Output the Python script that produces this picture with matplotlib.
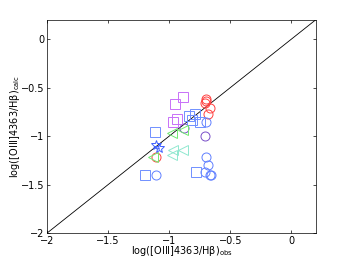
import matplotlib
matplotlib.use('Agg')
import matplotlib.pyplot as plt

matplotlib.rcParams.update({'font.size': 7, 'font.family': 'DejaVu Sans'})

# observed vs calculated log([OIII]4363/Hb), grouped by marker style
red_circ_x = [-0.70, -0.70, -0.71, -0.67, -0.68, -1.11]
red_circ_y = [-0.62, -0.64, -0.66, -0.71, -0.77, -1.22]

blue_circ_x = [-0.70, -0.70, -0.68, -0.71, -0.67, -0.66, -1.11]
blue_circ_y = [-0.85, -1.22, -1.30, -1.37, -1.40, -1.40, -1.40]

purple_circ_x = [-0.71, -0.88]
purple_circ_y = [-1.00, -0.92]

blue_sq_x = [-1.12, -1.20, -0.78, -0.84, -0.79, -0.75, -0.81]
blue_sq_y = [-0.96, -1.40, -1.37, -0.79, -0.77, -0.85, -0.83]

mag_sq_x = [-0.89, -0.95, -0.94, -0.97]
mag_sq_y = [-0.60, -0.67, -0.82, -0.86]

green_tri_x = [-0.98, -0.89, -1.13]
green_tri_y = [-0.97, -0.94, -1.22]

cyan_tri_x = [-0.97, -0.89, -0.98]
cyan_tri_y = [-1.14, -1.14, -1.20]

star_x = [-1.11, -1.08]
star_y = [-1.09, -1.12]

fig = plt.figure(figsize=(3.49, 2.63), dpi=100)
ax = fig.add_axes([0.135, 0.114, 0.77, 0.811])

ax.plot([-2, 0.2], [-2, 0.2], color='k', lw=0.6)

ms = 6.5
mw = 0.7
ax.plot(red_circ_x, red_circ_y, 'o', mfc='none', mec='#ff4040', ms=ms, mew=mw)
ax.plot(blue_circ_x, blue_circ_y, 'o', mfc='none', mec='#6080ff', ms=ms, mew=mw)
ax.plot(purple_circ_x, purple_circ_y, 'o', mfc='none', mec='#7a50c8', ms=ms, mew=mw)
ax.plot(blue_sq_x, blue_sq_y, 's', mfc='none', mec='#7090ff', ms=ms, mew=mw)
ax.plot(mag_sq_x, mag_sq_y, 's', mfc='none', mec='#c870f8', ms=ms, mew=mw)
ax.plot(green_tri_x, green_tri_y, '<', mfc='none', mec='#70e870', ms=ms, mew=mw)
ax.plot(cyan_tri_x, cyan_tri_y, '<', mfc='none', mec='#90e8d0', ms=ms, mew=mw)
ax.plot(star_x, star_y, '*', mfc='none', mec='#4060ff', ms=7.5, mew=mw)

ax.set_xlim(-2, 0.2)
ax.set_ylim(-2, 0.2)
ax.set_xticks([-2, -1.5, -1, -0.5, 0])
ax.set_yticks([-2, -1.5, -1, -0.5, 0])
ax.set_xticklabels(['\u22122', '\u22121.5', '\u22121', '\u22120.5', '0'])
ax.set_yticklabels(['\u22122', '\u22121.5', '\u22121', '\u22120.5', '0'])
ax.tick_params(direction='in', length=2.5, width=0.5, top=True, right=True, pad=2)
for s in ax.spines.values():
    s.set_linewidth(0.5)

ax.set_xlabel(r'log([OIII]4363/H$\mathregular{\beta}$)$_\mathregular{obs}$', labelpad=-1)
ax.set_ylabel(r'log([OIII]4363/H$\mathregular{\beta}$)$_\mathregular{calc}$', labelpad=-1)

fig.savefig('out.png', dpi=100)
plt.close()
